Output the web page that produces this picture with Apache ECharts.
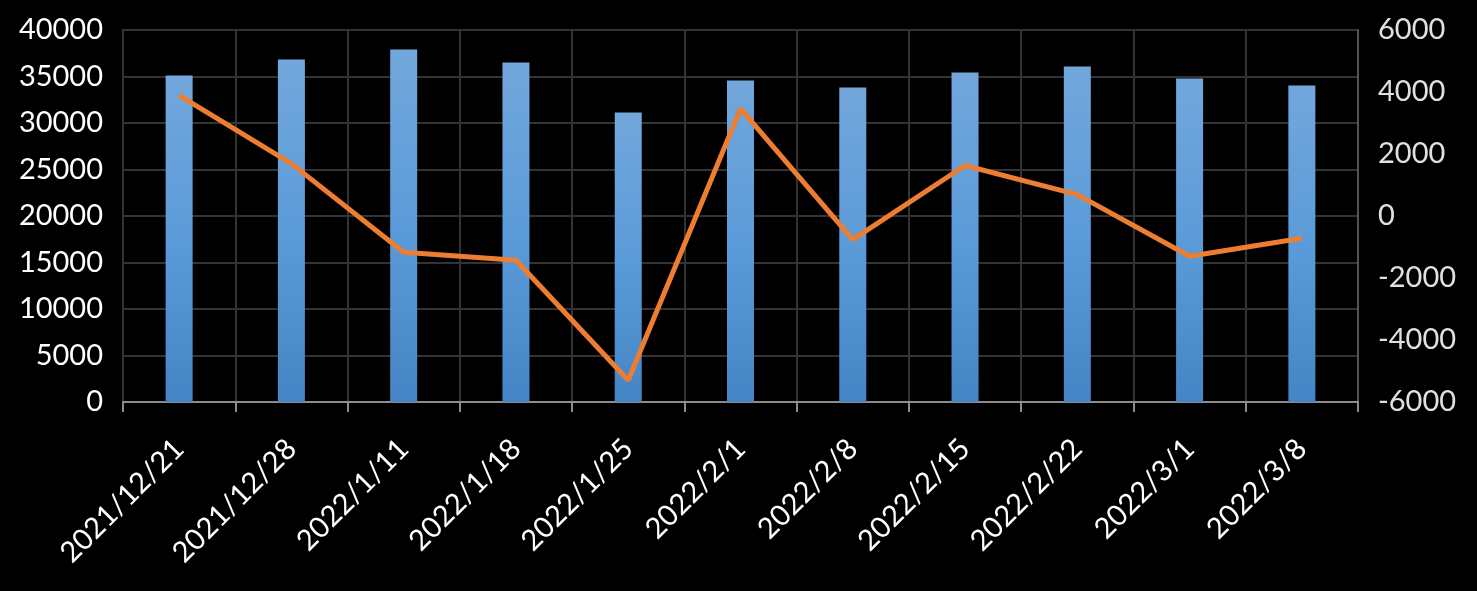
<!DOCTYPE html>
<html>
<head>
<meta charset="utf-8">
<script src="https://cdn.jsdelivr.net/npm/echarts@6/dist/echarts.min.js"></script>
<style>
html,body{margin:0;padding:0;background:#000;}
#chart{width:1477px;height:591px;}
</style>
</head>
<body>
<div id="chart"></div>
<script>
const categories = ['2021/12/21','2021/12/28','2022/1/11','2022/1/18','2022/1/25','2022/2/1','2022/2/8','2022/2/15','2022/2/22','2022/3/1','2022/3/8'];
const barValues = [35100, 36830, 37900, 36500, 31130, 34570, 33820, 35430, 36080, 34790, 34040];
const lineValues = [3890, 1690, -1170, -1430, -5300, 3460, -760, 1630, 690, -1300, -720];
const leftTicks = {min: 0, max: 40000, interval: 5000};
const rightTicks = {min: -6000, max: 6000, interval: 2000};

const chart = echarts.init(document.getElementById('chart'));
const font = 'Lato, "Open Sans", sans-serif';
const plain = v => String(v);
chart.setOption({
  backgroundColor: '#000',
  animation: false,
  grid: {left: 123, right: 119, top: 30, bottom: 189},
  xAxis: {
    type: 'category',
    data: categories,
    boundaryGap: true,
    axisLine: {show: true, lineStyle: {color: '#8c8c8c', width: 2}},
    axisTick: {show: true, alignWithLabel: false, length: 10, lineStyle: {color: '#8c8c8c', width: 2}},
    splitLine: {show: true, lineStyle: {color: '#333', width: 2}},
    axisLabel: {color: '#fff', fontSize: 29, fontFamily: font, rotate: 45, margin: 42, interval: 0}
  },
  yAxis: [
    {
      type: 'value', position: 'left',
      min: leftTicks.min, max: leftTicks.max, interval: leftTicks.interval,
      axisLine: {show: true, lineStyle: {color: '#333', width: 2}},
      axisTick: {show: false},
      splitLine: {show: true, lineStyle: {color: '#333', width: 2}},
      axisLabel: {color: '#fff', fontSize: 29, fontFamily: font, margin: 20, formatter: plain}
    },
    {
      type: 'value', position: 'right',
      min: rightTicks.min, max: rightTicks.max, interval: rightTicks.interval,
      axisLine: {show: true, lineStyle: {color: '#555', width: 2}},
      axisTick: {show: false},
      splitLine: {show: false},
      axisLabel: {color: '#e0e0e0', fontSize: 29, fontFamily: font, margin: 20, formatter: plain}
    }
  ],
  series: [
    {
      type: 'bar',
      data: barValues,
      barWidth: 27,
      yAxisIndex: 0,
      itemStyle: {
        color: new echarts.graphic.LinearGradient(0, 0, 0, 1, [
          {offset: 0, color: '#72a7dc'},
          {offset: 0.5, color: '#5b9bd9'},
          {offset: 1, color: '#4585c5'}
        ])
      }
    },
    {
      type: 'line',
      data: lineValues,
      yAxisIndex: 1,
      symbol: 'none',
      lineStyle: {color: '#ed7d31', width: 5},
      itemStyle: {color: '#ed7d31'}
    }
  ]
});
</script>
</body>
</html>
